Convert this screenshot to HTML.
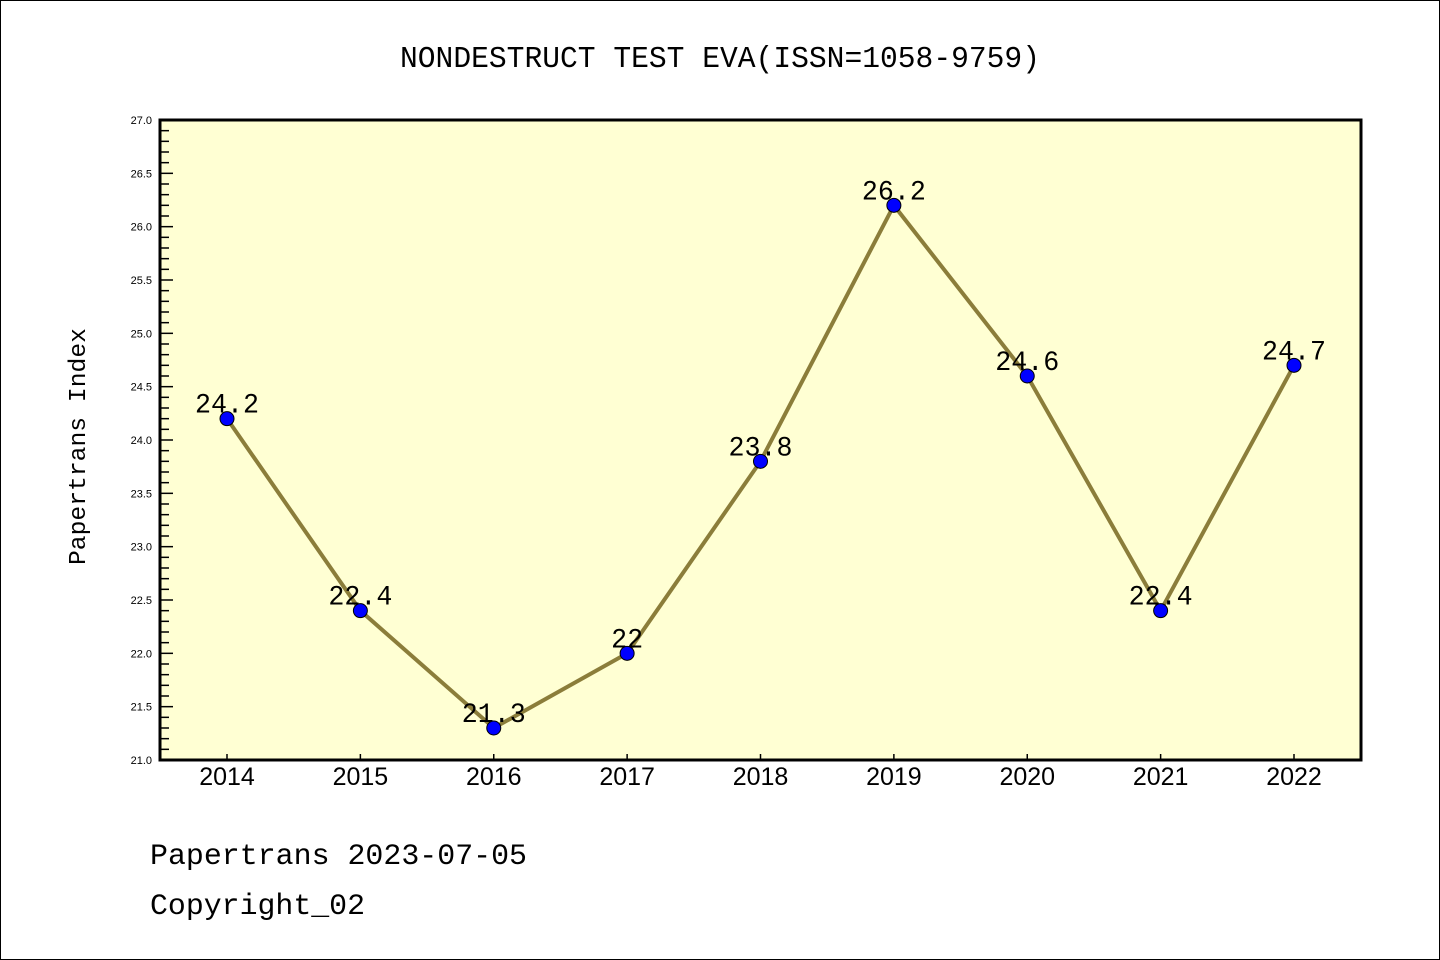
<!DOCTYPE html>
<html><head><meta charset="utf-8"><style>
html,body{margin:0;padding:0;background:#fff}
svg{display:block;font-family:"Liberation Sans","WenQuanYi Zen Hei",sans-serif}
.mono{font-family:"WenQuanYi Zen Hei Mono","WenQuanYi Zen Hei","Liberation Mono",monospace}
</style></head><body>
<svg width="1440" height="960">
<rect x="0.5" y="0.5" width="1439" height="959" fill="#fff" stroke="#000"/>
<text class="mono" x="400" y="67" font-size="31" textLength="640" lengthAdjust="spacingAndGlyphs">NONDESTRUCT TEST EVA(ISSN=1058-9759)</text>
<rect x="160" y="120" width="1201" height="640" fill="#ffffd3"/>
<g id="ticks"></g>
<g id="series"></g>
<rect x="160" y="120" width="1201" height="640" fill="none" stroke="#000" stroke-width="3"/>
<text class="mono" transform="translate(85,565) rotate(-90)" font-size="24" textLength="237" lengthAdjust="spacingAndGlyphs">Papertrans Index</text>
<text class="mono" x="150" y="864" font-size="30" textLength="377" lengthAdjust="spacingAndGlyphs">Papertrans 2023-07-05</text>
<text class="mono" x="150" y="914" font-size="30" textLength="215" lengthAdjust="spacingAndGlyphs">Copyright_02</text>
</svg>
<script>
const years=[2014,2015,2016,2017,2018,2019,2020,2021,2022];
const values=[24.2,22.4,21.3,22,23.8,26.2,24.6,22.4,24.7];
const labels=["24.2","22.4","21.3","22","23.8","26.2","24.6","22.4","24.7"];
const yTicks=["21.0","21.5","22.0","22.5","23.0","23.5","24.0","24.5","25.0","25.5","26.0","26.5","27.0"];
const NS="http://www.w3.org/2000/svg";
const L=160,R=1361,T=120,B=760,yMin=21,yMax=27;
const xs=i=>227+i*(1294-227)/(years.length-1);
const ys=v=>B-(v-yMin)/(yMax-yMin)*(B-T);
function mk(tag,attrs,parent){const e=document.createElementNS(NS,tag);for(const k in attrs)e.setAttribute(k,attrs[k]);parent.appendChild(e);return e;}
const tk=document.getElementById('ticks');
for(let i=0;i<=60;i++){const v=yMin+i*0.1;const y=ys(v);const major=i%5===0;
 const l=mk('line',{x1:L,x2:L+(major?13:9),y1:y,y2:y,stroke:'#000','stroke-width':1.5},tk);
 
 }
yTicks.forEach(t=>{const e=mk('text',{x:152,y:ys(parseFloat(t))+4,'font-size':11,'text-anchor':'end'},tk);e.textContent=t;
 
 });
years.forEach((yr,i)=>{const x=xs(i);
 const l=mk('line',{x1:x,x2:x,y1:B,y2:B-6,stroke:'#000','stroke-width':1.5},tk);
 
 
 const e=mk('text',{x:x,y:785,'font-size':25,'text-anchor':'middle'},tk);e.textContent=yr;
 
 });
const sg=document.getElementById('series');
const line=mk('polyline',{points:values.map((v,i)=>xs(i)+','+ys(v)).join(' '),fill:'none',stroke:'#8b7d3a','stroke-width':4},sg);


values.forEach((v,i)=>{
 const w=labels[i].length*16;
 const t=mk('text',{x:xs(i)-w/2,y:ys(v)-6,'font-size':28,'class':'mono',textLength:w,lengthAdjust:'spacingAndGlyphs'},sg);t.textContent=labels[i];
 
 
 const c=mk('circle',{cx:xs(i),cy:ys(v),r:7,fill:'#0000ff',stroke:'#000','stroke-width':1},sg);
 
 
});
</script>
</body></html>
